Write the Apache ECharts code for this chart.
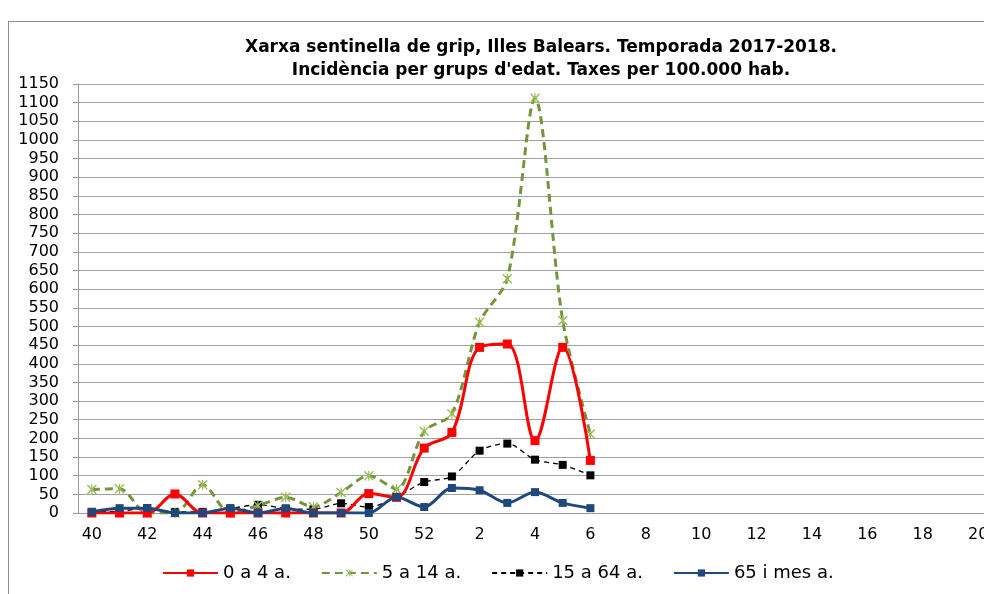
<!DOCTYPE html>
<html>
<head>
<meta charset="utf-8">
<script src="https://cdn.jsdelivr.net/npm/echarts@6/dist/echarts.min.js"></script>
<style>
  html, body { margin: 0; padding: 0; background: #fff; overflow: hidden; }
  #frame { position: absolute; left: 8px; top: 21px; width: 1100px; height: 700px; border-left: 1px solid #8c8c8c; border-top: 1px solid #8c8c8c; }
  #chart { position: absolute; left: 0; top: 0; width: 1000px; height: 594px; }
</style>
</head>
<body>
<div id="frame"></div>
<div id="chart"></div>
<script>
// setmanes de la temporada
const weeks = ['40','41','42','43','44','45','46','47','48','49','50','51','52',
  '1','2','3','4','5','6','7','8','9','10','11','12','13','14','15','16','17','18','19','20'];

// taxes per 100.000 hab. (setmanes 40 a 6)
const edat0a4   = [0, 0, 0, 51, 0, 0, 0, 0, 0, 0, 52, 42, 174, 216, 444, 453, 194, 444, 141];
const edat5a14  = [63, 65, 0, 0, 76, 0, 20, 42, 17, 55, 100, 64, 219, 266, 511, 628, 1112, 516, 212];
const edat15a64 = [3, 5, 13, 3, 3, 12, 22, 12, 10, 26, 16, 43, 83, 98, 167, 186, 143, 129, 101];
const edat65    = [3, 13, 13, 0, 0, 13, 0, 12, 0, 0, 0, 43, 16, 67, 61, 27, 56, 27, 13];

const legendNames = ['0 a 4 a.', '5 a 14 a.', '15 a 64 a.', '65 i mes a.'];

const starPath = 'path://M1,0L5,4L9,0L10,1L6,5L10,9L9,10L5,6L1,10L0,9L4,5L0,1Z M4.4,0L5.6,0L5.6,10L4.4,10Z';

const chart = echarts.init(document.getElementById('chart'));
chart.setOption({
  animation: false,
  title: {
    text: 'Xarxa sentinella de grip, Illes Balears. Temporada 2017-2018.\nIncidència per grups d\'edat. Taxes per 100.000 hab.',
    left: 536,
    top: 31,
    textAlign: 'center',
    textStyle: {
      fontFamily: 'DejaVu Sans',
      fontSize: 17,
      fontWeight: 'bold',
      color: '#000',
      lineHeight: 23
    }
  },
  legend: {
    data: legendNames,
    left: 157,
    top: 559,
    itemWidth: 55,
    itemHeight: 9,
    itemGap: 30,
    textStyle: { fontFamily: 'DejaVu Sans', fontSize: 18, color: '#000' }
  },
  grid: { left: 78, right: 8, top: 84, bottom: 81 },
  xAxis: {
    type: 'category',
    data: weeks,
    boundaryGap: true,
    axisLine: { lineStyle: { color: '#9a9a9a', width: 1 } },
    axisTick: { interval: 0, length: 5, lineStyle: { color: '#9a9a9a' } },
    axisLabel: { interval: 1, margin: 14, fontFamily: 'DejaVu Sans', fontSize: 16, color: '#000' }
  },
  yAxis: {
    type: 'value',
    min: 0,
    max: 1150,
    interval: 50,
    axisLine: { show: true, lineStyle: { color: '#9a9a9a', width: 1 } },
    axisTick: { show: true, length: 5, lineStyle: { color: '#9a9a9a' } },
    axisLabel: {
      margin: 19,
      fontFamily: 'DejaVu Sans',
      fontSize: 16,
      color: '#000',
      formatter: v => String(v)
    },
    splitLine: { lineStyle: { color: '#a0a0a0', width: 1 } }
  },
  series: [
    {
      name: legendNames[0],
      type: 'line',
      data: edat0a4,
      smooth: 0.35,
      smoothConstraint: false,
      symbol: 'rect',
      symbolSize: 9,
      itemStyle: { color: '#ff0000' },
      lineStyle: { color: '#ff0000', width: 3 },
      z: 4
    },
    {
      name: legendNames[1],
      type: 'line',
      data: edat5a14,
      smooth: 0.3,
      smoothConstraint: false,
      symbol: starPath,
      symbolSize: 10,
      itemStyle: { color: '#9bbb59' },
      lineStyle: { color: '#77933c', width: 3, type: [8, 5] },
      z: 3
    },
    {
      name: legendNames[2],
      type: 'line',
      data: edat15a64,
      smooth: 0.3,
      smoothConstraint: false,
      symbol: 'rect',
      symbolSize: 8,
      itemStyle: { color: '#000000' },
      lineStyle: { color: '#000000', width: 1.3, type: [5, 4] },
      z: 2
    },
    {
      name: legendNames[3],
      type: 'line',
      data: edat65,
      smooth: 0.3,
      smoothConstraint: false,
      symbol: 'rect',
      symbolSize: 8,
      itemStyle: { color: '#1f497d' },
      lineStyle: { color: '#1f497d', width: 3 },
      z: 5
    }
  ]
});
</script>
</body>
</html>
